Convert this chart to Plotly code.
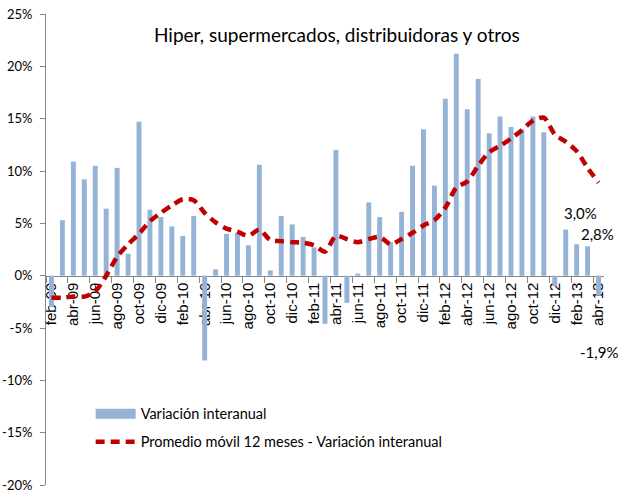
import plotly.graph_objects as go

# Monthly series, feb-09 .. abr-13
meses = [
    "feb-09", "mar-09", "abr-09", "may-09", "jun-09", "jul-09", "ago-09", "sep-09", "oct-09", "nov-09", "dic-09",
    "ene-10", "feb-10", "mar-10", "abr-10", "may-10", "jun-10", "jul-10", "ago-10", "sep-10", "oct-10", "nov-10", "dic-10",
    "ene-11", "feb-11", "mar-11", "abr-11", "may-11", "jun-11", "jul-11", "ago-11", "sep-11", "oct-11", "nov-11", "dic-11",
    "ene-12", "feb-12", "mar-12", "abr-12", "may-12", "jun-12", "jul-12", "ago-12", "sep-12", "oct-12", "nov-12", "dic-12",
    "ene-13", "feb-13", "mar-13", "abr-13",
]

# Year-on-year change (%)
variacion_interanual = [
    -3.0, 5.3, 10.9, 9.2, 10.5, 6.4, 10.3, 2.1, 14.7, 6.3, 5.6,
    4.7, 3.8, 5.7, -8.1, 0.6, 4.0, 4.1, 2.9, 10.6, 0.5, 5.7, 4.9,
    3.7, 2.7, -4.6, 12.0, -2.6, 0.2, 7.0, 5.6, 3.2, 6.1, 10.5, 14.0,
    8.6, 16.9, 21.2, 15.9, 18.8, 13.6, 15.2, 14.2, 14.0, 15.2, 13.7, -1.0,
    4.4, 3.0, 2.8, -1.9,
]

# 12-month moving average of the year-on-year change (%)
promedio_movil = [
    -2.1, -2.1, -2.0, -2.0, -1.5, 0.0, 1.8, 3.0, 4.0, 5.2, 6.0,
    6.7, 7.3, 7.2, 6.0, 5.1, 4.5, 4.2, 3.8, 4.4, 3.4, 3.3, 3.2,
    3.15, 2.9, 2.3, 3.8, 3.5, 3.2, 3.5, 3.7, 3.0, 3.5, 4.1, 4.8,
    5.3, 6.5, 8.4, 9.0, 10.5, 11.8, 12.4, 13.1, 13.9, 14.8, 15.1, 13.5,
    12.8, 11.9, 10.3, 8.9,
]

# Months whose bar carries a value label, with the label offset in px
etiquetas = {"feb-13": (4, 31), "mar-13": (10, 12), "abr-13": (0, -56)}

y_ticks = [-20, -15, -10, -5, 0, 5, 10, 15, 20, 25]

titulo = "Hiper, supermercados, distribuidoras y otros"
nombre_barras = "Variación interanual"
nombre_linea = "Promedio móvil 12 meses - Variación interanual"

BAR_COLOR = "#95B3D7"
LINE_COLOR = "#C00000"
AXIS_COLOR = "#868686"
TEXT_FONT = "Lato, Calibri, sans-serif"
TICK_FONT = "Liberation Sans, Arial, sans-serif"

fig = go.Figure()

fig.add_trace(go.Bar(
    x=meses, y=variacion_interanual, name=nombre_barras,
    marker=dict(color=BAR_COLOR, line=dict(width=0)),
    showlegend=False, hoverinfo="skip",
))

# legend stand-in for the bar series (wide swatch)
fig.add_trace(go.Scatter(
    x=[None], y=[None], mode="lines", name=nombre_barras,
    line=dict(color=BAR_COLOR, width=12), legendgroup="a",
))

fig.add_trace(go.Scatter(
    x=meses, y=promedio_movil, mode="lines", name=nombre_linea,
    line=dict(color=LINE_COLOR, width=4.5, dash="9px,6px", shape="spline", smoothing=0.8),
    legendgroup="b", hoverinfo="skip",
))

for mes, (dx, dy) in etiquetas.items():
    v = variacion_interanual[meses.index(mes)]
    fig.add_annotation(
        x=mes, y=v, xref="x", yref="y",
        text=f"{v:.1f}%".replace(".", ","),
        showarrow=False, xshift=dx, yshift=dy,
        font=dict(family=TEXT_FONT, size=15, color="#000000"),
    )

fig.add_annotation(
    x=0.5215, y=0.9575, xref="paper", yref="paper",
    text=titulo, showarrow=False, xanchor="center", yanchor="middle",
    font=dict(family=TEXT_FONT, size=19, color="#000000"),
)

fig.update_layout(
    width=618, height=498,
    margin=dict(l=46, r=14, t=14, b=13, pad=0, autoexpand=False),
    paper_bgcolor="white", plot_bgcolor="white",
    bargap=0.55,
    showlegend=True,
    legend=dict(
        x=0.08, y=0.185, xanchor="left", yanchor="top",
        bgcolor="rgba(0,0,0,0)",
        font=dict(family=TEXT_FONT, size=14.5, color="#000000"),
        tracegroupgap=6, itemwidth=40,
    ),
    xaxis=dict(
        type="category", range=[-0.5, 50.5], automargin=False,
        anchor="free", position=20 / 45,
        showline=True, linecolor=AXIS_COLOR, linewidth=1,
        ticks="outside", ticklen=6, tickcolor=AXIS_COLOR,
        tickson="boundaries", tickmode="linear", tick0=0, dtick=2,
        tickangle=-90,
        tickfont=dict(family=TICK_FONT, size=15, color="#000000"),
        showgrid=False, zeroline=False, layer="below traces",
    ),
    yaxis=dict(
        range=[-20, 25], automargin=False,
        tickmode="array", tickvals=y_ticks, ticktext=[f"{t}%" for t in y_ticks],
        showline=True, linecolor=AXIS_COLOR, linewidth=1,
        ticks="outside", ticklen=5, tickcolor=AXIS_COLOR,
        ticklabelstandoff=5,
        tickfont=dict(family=TEXT_FONT, size=13, color="#000000"),
        showgrid=False, zeroline=False,
    ),
)

fig.write_html("out.html")
